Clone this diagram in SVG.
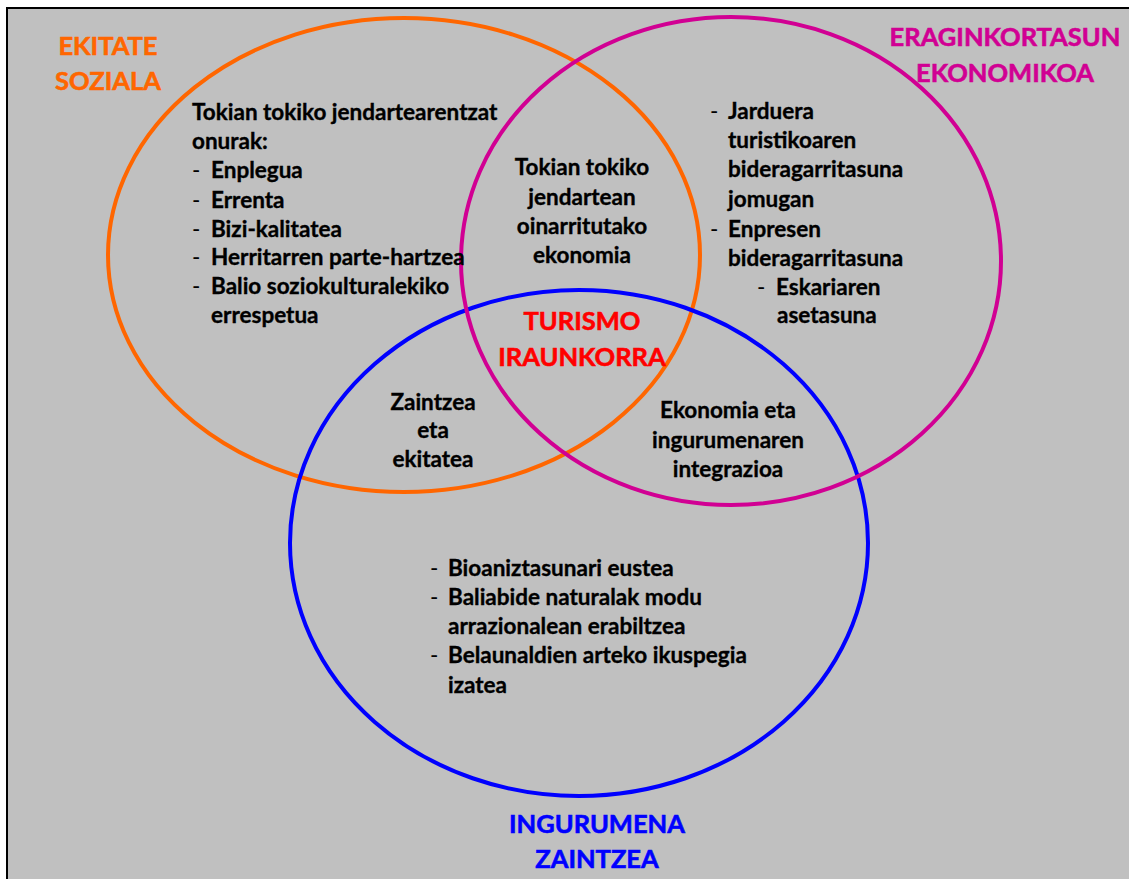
<svg xmlns="http://www.w3.org/2000/svg" width="1129" height="879" viewBox="0 0 1129 879">
<style>
.t{font-family:Lato,"Open Sans","Liberation Sans",sans-serif;font-weight:bold;font-size:22.5px;fill:#000;stroke:#000;stroke-width:0.35px}
.c{text-anchor:middle}
.h{font-family:Lato,"Open Sans","Liberation Sans",sans-serif;font-weight:bold;font-size:25.5px;text-anchor:middle;stroke-width:0.6px}
.d{stroke:none;font-weight:normal}
.e{fill:none;stroke-width:4}
</style>
<rect x="0" y="0" width="1129" height="879" fill="#fff"/>
<rect x="7" y="8" width="1140" height="890" fill="#c0c0c0" stroke="#000" stroke-width="2"/>
<g id="circles">
<ellipse id="c-social" class="e" cx="404" cy="255" rx="296" ry="237" stroke="#ff6600"/>
<ellipse id="c-env" class="e" cx="579" cy="543" rx="289" ry="253" stroke="#0000ff"/>
<ellipse id="c-econ" class="e" cx="731" cy="261" rx="270" ry="244" stroke="#d10093"/>
</g>
<g id="title-social" class="h" fill="#ff6600" stroke="#ff6600">
<text x="108" y="55">EKITATE</text>
<text x="108" y="90">SOZIALA</text>
</g>
<g id="title-econ" class="h" fill="#d10093" stroke="#d10093">
<text x="1005" y="46">ERAGINKORTASUN</text>
<text x="1005" y="82">EKONOMIKOA</text>
</g>
<g id="title-center" class="h" fill="#ff0000" stroke="#ff0000">
<text x="582" y="330">TURISMO</text>
<text x="582" y="366">IRAUNKORRA</text>
</g>
<g id="title-env" class="h" fill="#0000ff" stroke="#0000ff">
<text x="597" y="833">INGURUMENA</text>
<text x="597" y="868">ZAINTZEA</text>
</g>
<g id="social-text" class="t">
<text x="192" y="120">Tokian tokiko jendartearentzat</text>
<text x="192" y="149">onurak:</text>
<text class="d" x="192" y="178">-</text><text x="211" y="178">Enplegua</text>
<text class="d" x="192" y="208">-</text><text x="211" y="208">Errenta</text>
<text class="d" x="192" y="237">-</text><text x="211" y="237">Bizi-kalitatea</text>
<text class="d" x="192" y="265">-</text><text x="211" y="265">Herritarren parte-hartzea</text>
<text class="d" x="192" y="294">-</text><text x="211" y="294">Balio soziokulturalekiko</text>
<text x="211" y="323">errespetua</text>
</g>
<g id="social-econ-text" class="t c">
<text x="582" y="175">Tokian tokiko</text>
<text x="582" y="205">jendartean</text>
<text x="582" y="234">oinarritutako</text>
<text x="582" y="263">ekonomia</text>
</g>
<g id="econ-text" class="t">
<text class="d" x="710" y="119">-</text><text x="728" y="119">Jarduera</text>
<text x="728" y="148">turistikoaren</text>
<text x="728" y="177">bideragarritasuna</text>
<text x="728" y="207">jomugan</text>
<text class="d" x="710" y="237">-</text><text x="728" y="237">Enpresen</text>
<text x="728" y="266">bideragarritasuna</text>
<text class="d" x="757" y="295">-</text><text x="776" y="295">Eskariaren</text>
<text x="777" y="323">asetasuna</text>
</g>
<g id="social-env-text" class="t c">
<text x="433" y="410">Zaintzea</text>
<text x="433" y="438">eta</text>
<text x="433" y="467">ekitatea</text>
</g>
<g id="econ-env-text" class="t c">
<text x="728" y="418">Ekonomia eta</text>
<text x="728" y="448">ingurumenaren</text>
<text x="728" y="477">integrazioa</text>
</g>
<g id="env-text" class="t">
<text class="d" x="430" y="576">-</text><text x="448" y="576">Bioaniztasunari eustea</text>
<text class="d" x="430" y="605">-</text><text x="448" y="605">Baliabide naturalak modu</text>
<text x="448" y="634">arrazionalean erabiltzea</text>
<text class="d" x="430" y="663">-</text><text x="448" y="663">Belaunaldien arteko ikuspegia</text>
<text x="448" y="693">izatea</text>
</g>
</svg>
